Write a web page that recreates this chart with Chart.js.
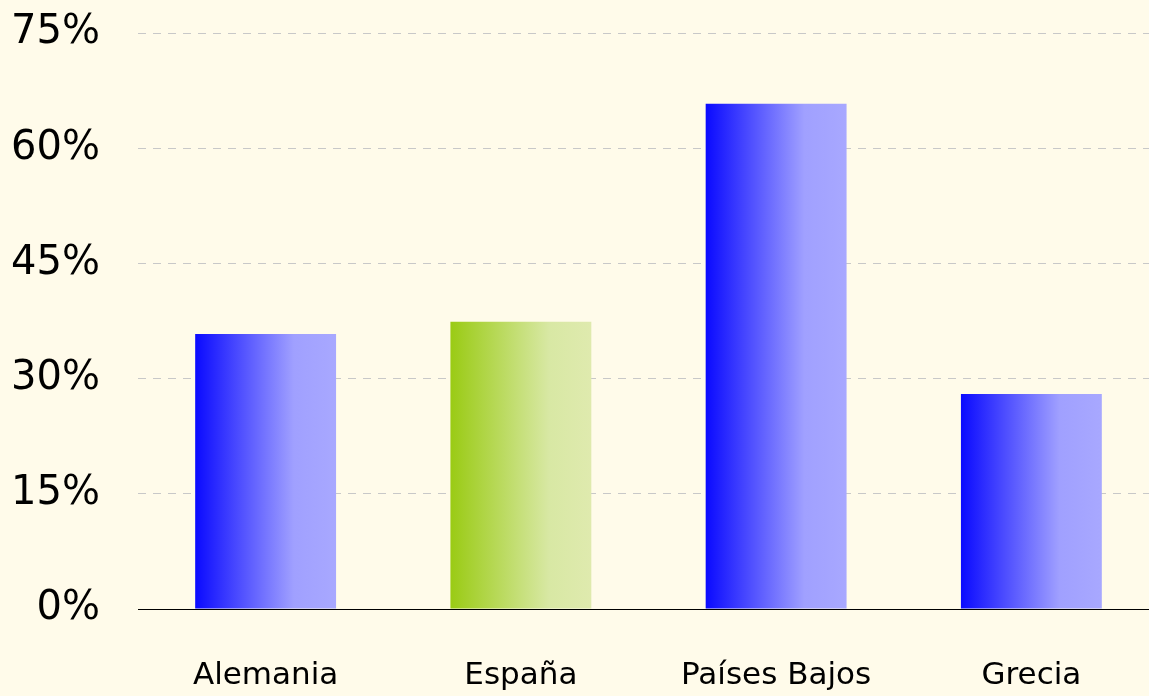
<!DOCTYPE html>
<html>
<head>
<meta charset="utf-8">
<script src="https://cdn.jsdelivr.net/npm/chart.js@4"></script>
<style>
  html, body { margin: 0; padding: 0; background: #fffbea; overflow: hidden; }
  #wrap { width: 1149px; height: 696px; overflow: hidden; }
  #box { width: 1159px; height: 696px; }
</style>
</head>
<body>
<div id="wrap"><div id="box"><canvas id="myChart"></canvas></div></div>
<script>
const categories = ['Alemania', 'España', 'Países Bajos', 'Grecia'];
const values = [35.8, 37.4, 65.8, 28.0];
const startColors = ['#0a0aff', '#9acb14', '#0a0aff', '#0a0aff'];
const midColors = ['#a0a0ff', '#d8e8a4', '#a0a0ff', '#a0a0ff'];
const endColors = ['#a8a8ff', '#dfeaae', '#a8a8ff', '#a8a8ff'];
const yMin = 0, yMax = 75, yStep = 15;

const FONT = "'Comic Sans MS', 'DejaVu Sans', sans-serif";
const BAR_PCT = 0.552;

// horizontal gradient across each bar
function barGradient(ctx) {
    const i = ctx.dataIndex;
    const chart = ctx.chart;
    if (!chart.chartArea || !chart.scales.x) return startColors[i];
    const xs = chart.scales.x;
    const cx = xs.getPixelForValue(i);
    const w = xs.width / categories.length * BAR_PCT;
    const g = chart.ctx.createLinearGradient(cx - w / 2, 0, cx + w / 2, 0);
    g.addColorStop(0, startColors[i]);
    g.addColorStop(0.7, midColors[i]);
    g.addColorStop(1, endColors[i]);
    return g;
}

new Chart(document.getElementById('myChart'), {
    type: 'bar',
    data: {
        labels: categories,
        datasets: [{
            data: values,
            backgroundColor: barGradient,
            borderWidth: 0,
            barPercentage: BAR_PCT,
            categoryPercentage: 1
        }]
    },
    options: {
        responsive: true,
        maintainAspectRatio: false,
        animation: false,
        layout: { padding: { top: 33, right: 0, bottom: 0, left: 0 } },
        plugins: { legend: { display: false }, tooltip: { enabled: false } },
        scales: {
            x: {
                grid: { display: false },
                border: { display: true, color: '#000000', width: 1 },
                ticks: { color: '#000', font: { family: FONT, size: 31 }, padding: 40 },
                afterFit(scale) { scale.height = 87; }
            },
            y: {
                min: yMin, max: yMax,
                grid: { color: '#c8c8c8', lineWidth: 1, drawTicks: false },
                border: { display: false, dash: [8, 7] },
                ticks: {
                    stepSize: yStep,
                    color: '#000',
                    font: { family: FONT, size: 40 },
                    padding: 38,
                    callback: v => v + '%'
                },
                afterFit(scale) {
                    scale.width = 138;
                    scale.paddingTop = 0;
                    scale.paddingBottom = 0;
                }
            }
        }
    }
});
</script>
</body>
</html>
